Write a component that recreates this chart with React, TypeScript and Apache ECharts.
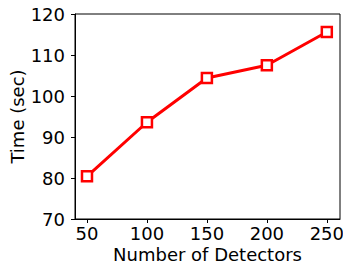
import React, { useEffect, useRef } from "react";
import * as echarts from "echarts";

const detectors = [50, 100, 150, 200, 250];
const times = [80.4, 93.6, 104.4, 107.5, 115.6];
const xTicks = [50, 100, 150, 200, 250];

export default function App() {
  const ref = useRef<HTMLDivElement>(null);
  useEffect(() => {
    const chart = echarts.init(ref.current!, null, { renderer: "svg" });
    const font = "DejaVu Sans";
    chart.setOption({
      animation: false,
      backgroundColor: "#ffffff",
      grid: {
        left: 75,
        right: 3,
        top: 14,
        bottom: 51,
        outerBoundsMode: "none",
        containLabel: false,
        show: true,
        borderColor: "#000",
        borderWidth: 1,
        backgroundColor: "transparent",
      },
      xAxis: {
        type: "value",
        min: 40,
        max: 261,
        name: "Number of Detectors",
        nameLocation: "middle",
        nameGap: 26,
        nameMoveOverlap: false,
        nameTextStyle: { fontFamily: font, fontSize: 18, color: "#000" },
        axisLine: { show: true, onZero: false, lineStyle: { color: "#000", width: 1 } },
        axisTick: { show: true, length: 4, inside: false, customValues: xTicks, lineStyle: { color: "#000" } },
        axisLabel: { customValues: xTicks, fontFamily: font, fontSize: 18, color: "#000", margin: 5, hideOverlap: false },
        splitLine: { show: false },
      },
      yAxis: {
        type: "value",
        min: 70,
        max: 120,
        interval: 10,
        name: "Time (sec)",
        nameLocation: "middle",
        nameGap: 49,
        nameMoveOverlap: false,
        nameTextStyle: { fontFamily: font, fontSize: 18, color: "#000" },
        axisLine: { show: true, onZero: false, lineStyle: { color: "#000", width: 1 } },
        axisTick: { show: true, length: 4, inside: false, lineStyle: { color: "#000" } },
        axisLabel: { fontFamily: font, fontSize: 18, color: "#000", margin: 10 },
        splitLine: { show: false },
      },
      series: [
        {
          type: "line",
          data: detectors.map((d, i) => [d, times[i]]),
          lineStyle: { color: "#ff0000", width: 3 },
          symbol: "rect",
          symbolSize: 10,
          itemStyle: { color: "#ffffff", borderColor: "#ff0000", borderWidth: 2.5 },
          z: 3,
        },
      ],
    });
    return () => chart.dispose();
  }, []);
  return <div ref={ref} style={{ width: 343, height: 270, position: "absolute", left: 0, top: 0 }} />;
}
